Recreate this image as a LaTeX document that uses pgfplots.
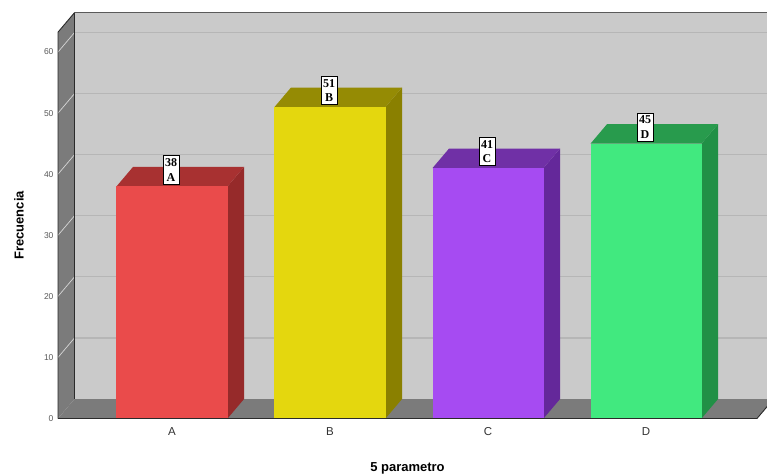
\documentclass[border=0pt]{standalone}
\usepackage{fontspec}
\setmainfont{Liberation Sans}
\newfontfamily\labelserif{Liberation Serif}
\usepackage{pgfplots}
\usepackage{pgfplotstable}
\pgfplotsset{compat=1.18}

% wall, floor and edge colours
\definecolor{wallback}{HTML}{CACACA}
\definecolor{wallside}{HTML}{7B7B7B}
\definecolor{gridback}{HTML}{B6B6B6}
\definecolor{gridside}{HTML}{D6D6D6}
\definecolor{edgedark}{HTML}{2B2B2B}
\definecolor{edgetop}{HTML}{5A5A5A}

% bar colours: front face, top face, right side face
\definecolor{frontA}{HTML}{EA4B4B}\definecolor{topA}{HTML}{A83131}\definecolor{sideA}{HTML}{962A2A}
\definecolor{frontB}{HTML}{E4D70E}\definecolor{topB}{HTML}{958B04}\definecolor{sideB}{HTML}{8A8000}
\definecolor{frontC}{HTML}{A64BF2}\definecolor{topC}{HTML}{7030A6}\definecolor{sideC}{HTML}{64289A}
\definecolor{frontD}{HTML}{41E97F}\definecolor{topD}{HTML}{289B4D}\definecolor{sideD}{HTML}{219046}

\pgfplotstableread{
pos cat n
0 A 38
1 B 51
2 C 41
3 D 45
}\freqtable

% depth offset of the 3D look (x in category units, y in frequency units)
\def\ddx{0.1044}
\def\ddy{3.19}
\def\hw{0.3513}

\begin{document}
\begin{tikzpicture}
\begin{axis}[
  x=158pt, y=6.108pt,
  xmin=-0.7215, xmax=3.7025,
  ymin=0, ymax=63.25,
  clip=false,
  axis line style={draw=none},
  major tick length=0pt,
  /pgf/number format/assume math mode=true,
  xtick={0,1,2,3},
  xticklabels={A,B,C,D},
  ytick={0,10,...,60},
  xticklabel style={font=\fontsize{11.5}{13}\selectfont, text=black!80, anchor=base, yshift=-16.5pt},
  yticklabel style={font=\fontsize{8.5}{10}\selectfont, text=black!65, anchor=east, xshift=-1pt},
  xlabel={5 parametro},
  ylabel={Frecuencia},
  xlabel style={font=\bfseries\fontsize{13}{15}\selectfont, at={(axis description cs:0.5,0)}, anchor=base, yshift=-52.5pt},
  ylabel style={font=\bfseries\fontsize{13}{15}\selectfont, at={(axis description cs:-0.0558,0.5)}, anchor=center},
]

% back wall, left wall and floor
\addplot[draw=none, fill=wallback, mark=none] coordinates {(-0.6171,3.19) (3.78,3.19) (3.78,66.44) (-0.6171,66.44)};
\addplot[draw=none, fill=wallside, mark=none] coordinates {(-0.7215,0) (-0.6171,3.19) (-0.6171,66.44) (-0.7215,63.25)};
\addplot[draw=none, fill=wallside, mark=none] coordinates {(-0.7215,0) (3.7025,0) (3.8069,3.19) (-0.6171,3.19)};

% grid lines on the back wall and across the left wall
\foreach \g/\gb in {10/13.19,20/23.19,30/33.19,40/43.19,50/53.19,60/63.19}{
  \edef\gridcmd{\noexpand\draw[gridback, line width=1.1pt] (axis cs:-0.6171,\gb) -- (axis cs:3.78,\gb);
    \noexpand\draw[gridside, line width=0.7pt] (axis cs:-0.7215,\g) -- (axis cs:-0.6171,\gb);}
  \gridcmd
}

% bars: side, top and front faces
\pgfplotsinvokeforeach{0,1,2,3}{
  \pgfplotstablegetelem{#1}{n}\of\freqtable \let\val\pgfplotsretval
  \pgfplotstablegetelem{#1}{cat}\of\freqtable \let\cat\pgfplotsretval
  \pgfmathsetmacro\xl{#1-\hw}
  \pgfmathsetmacro\xr{#1+\hw}
  \pgfmathsetmacro\xlb{#1-\hw+\ddx}
  \pgfmathsetmacro\xrb{#1+\hw+\ddx}
  \pgfmathsetmacro\vb{\val+\ddy}
  \edef\drawbar{%
    \noexpand\addplot[draw=none, mark=none, fill=side\cat] coordinates {(\xr,0) (\xrb,\ddy) (\xrb,\vb) (\xr,\val)};
    \noexpand\addplot[draw=none, mark=none, fill=top\cat] coordinates {(\xl,\val) (\xlb,\vb) (\xrb,\vb) (\xr,\val)};
    \noexpand\addplot[draw=none, mark=none, fill=front\cat] coordinates {(\xl,0) (\xr,0) (\xr,\val) (\xl,\val)};
  }\drawbar
}

% edges of the walls and floor
\draw[edgedark, line width=0.9pt] (axis cs:-0.7215,0) -- (axis cs:-0.7215,63.25) -- (axis cs:-0.6171,66.44);
\draw[edgedark, line width=0.8pt] (axis cs:-0.6171,3.19) -- (axis cs:-0.6171,66.44);
\draw[edgetop, line width=1.3pt] (axis cs:-0.6171,66.44) -- (axis cs:3.78,66.44);
\draw[edgedark, line width=0.9pt] (axis cs:-0.7215,0) -- (axis cs:3.7025,0) -- (axis cs:3.8069,3.19);

% value and category labels on the bars
\addplot[draw=none, mark=none,
  visualization depends on={\thisrow{n} \as \nval},
  point meta=explicit symbolic,
  nodes near coords={\pgfmathprintnumber{\nval}\\\pgfplotspointmeta},
  every node near coord/.append style={draw=black, line width=0.6pt, fill=white,
    font=\labelserif\bfseries\fontsize{12}{14.5}\selectfont, align=center,
    inner xsep=2pt, inner ysep=3pt, anchor=south, yshift=2pt, xshift=-1pt},
] table[x=pos, y=n, meta=cat] {\freqtable};

\coordinate (imgLL) at (axis cs:-1.0886,-8.923);
\coordinate (imgUR) at (axis cs:3.7658,68.52);
\end{axis}
\pgfresetboundingbox
\path[use as bounding box] (imgLL) rectangle (imgUR);
\end{tikzpicture}
\end{document}
